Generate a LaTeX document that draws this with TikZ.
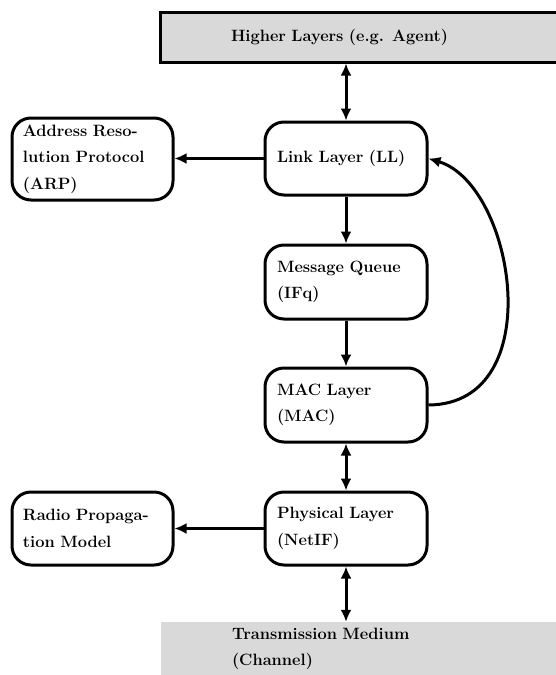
\documentclass[tikz,border=0pt]{standalone}
\usetikzlibrary{arrows.meta,positioning}
\begin{document}
\begin{tikzpicture}[x=1pt,y=-1pt,
  every node/.style={font=\fontsize{16.4}{26.5}\selectfont\bfseries},
  layerbox/.style={draw,line width=3pt,rounded corners=19pt,minimum width=162pt,
    inner xsep=12pt,inner ysep=0pt,text width=138pt,align=left},
  graybar/.style={fill=gray!30,minimum width=400pt,inner ysep=0pt,text width=258pt,align=left,inner xsep=71pt},
  arr/.style={line width=3pt,-{Latex[length=12pt,width=11pt]}},
  darr/.style={line width=3pt,{Latex[length=12pt,width=11pt]}-{Latex[length=12pt,width=11pt]}}]
\useasboundingbox (0,0) rectangle (556,675);
\node[graybar,draw,line width=3pt,minimum height=50pt] (higher) at (360,37) {Higher Layers (e.g. Agent)};
\node[graybar,minimum height=54pt] (trans) at (361,649) {Transmission Medium\\(Channel)};
\node[layerbox,minimum height=73pt] (ll) at (346,158.5) {Link Layer (LL)};
\node[layerbox,minimum height=82pt,minimum width=161pt,inner xsep=11pt,text width=139pt] (arp) at (92.5,159) {Address Reso-\\lution Protocol\\(ARP)};
\node[layerbox,minimum height=74pt] (mq) at (346,282) {Message Queue\\(IFq)};
\node[layerbox,minimum height=74pt] (mac) at (346,405) {MAC Layer\\(MAC)};
\node[layerbox,minimum height=73pt] (phy) at (346,528.5) {Physical Layer\\(NetIF)};
\node[layerbox,minimum height=73pt,minimum width=161pt,inner xsep=11pt,text width=139pt] (radio) at (92.5,528.5) {Radio Propaga-\\tion Model};
\draw[darr] (ll.north |- higher.south) -- (ll.north);
\draw[arr] (ll.west) -- (ll.west -| arp.east);
\draw[arr] (ll.south) -- (mq.north);
\draw[arr] (mq.south) -- (mac.north);
\draw[darr] (mac.south) -- (phy.north);
\draw[arr] (phy.west) -- (phy.west -| radio.east);
\draw[darr] (phy.south) -- (phy.south |- trans.north);
\draw[arr] (mac.east) .. controls (550,404) and (515,185) .. (ll.east);
\end{tikzpicture}
\end{document}
